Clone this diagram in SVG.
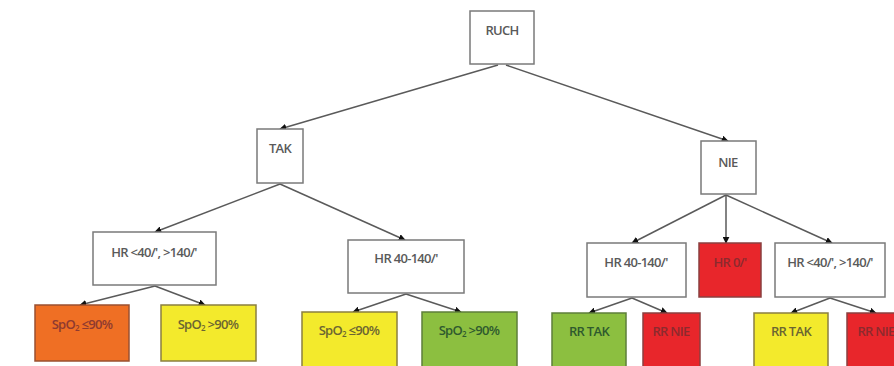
<svg xmlns="http://www.w3.org/2000/svg" width="894" height="366" viewBox="0 0 894 366">
<style>
.box{fill:#fff;stroke:#7a7a7a;stroke-width:1.5}
.t{font-family:"Open Sans","Liberation Sans",sans-serif;font-size:13px;font-weight:600;text-anchor:middle;fill:#5a5a5a;letter-spacing:-0.7px}
.or{fill:#ef6f24;stroke:#9a5030;stroke-width:1.5}
.ye{fill:#f3ea2c;stroke:#8a7f40;stroke-width:1.5}
.gr{fill:#8cbf40;stroke:#5e7f3a;stroke-width:1.5}
.re{fill:#e8262b;stroke:#8a4040;stroke-width:1.5}
.tor{fill:#8e3a30}
.tye{fill:#6b6532}
.tgr{fill:#2f5a2e}
.tre{fill:#8c2a2e}
.e{stroke:#5a5a5a;stroke-width:1.5;fill:none;marker-end:url(#a)}
</style>
<defs>
<marker id="a" viewBox="0 0 10 10" refX="9" refY="5" markerWidth="7" markerHeight="7" orient="auto" markerUnits="userSpaceOnUse"><path d="M0,0 L10,5 L0,10 z" fill="#111"/></marker>
</defs>
<rect width="894" height="366" fill="#fff"/>
<g id="connectors">
<line class="e" x1="498" y1="65" x2="280" y2="129"/>
<line class="e" x1="506" y1="65" x2="728" y2="141"/>
<line class="e" x1="280" y1="184" x2="155" y2="232"/>
<line class="e" x1="280" y1="184" x2="405" y2="240"/>
<line class="e" x1="726" y1="195" x2="632" y2="243"/>
<line class="e" x1="726" y1="195" x2="726" y2="243"/>
<line class="e" x1="726" y1="195" x2="832" y2="243"/>
<line class="e" x1="155" y1="286" x2="80" y2="305"/>
<line class="e" x1="155" y1="286" x2="205" y2="305"/>
<line class="e" x1="406" y1="294" x2="353" y2="312"/>
<line class="e" x1="406" y1="294" x2="461" y2="312"/>
<line class="e" x1="632" y1="298" x2="589" y2="313"/>
<line class="e" x1="632" y1="298" x2="667" y2="313"/>
<line class="e" x1="830" y1="298" x2="791" y2="313"/>
<line class="e" x1="830" y1="298" x2="876" y2="313"/>
</g>
<g id="ruch"><rect class="box" x="470" y="11" width="64" height="53"/><text class="t" x="502" y="35">RUCH</text></g>
<g id="tak"><rect class="box" x="257" y="129" width="46" height="54"/><text class="t" x="280" y="153">TAK</text></g>
<g id="nie"><rect class="box" x="701" y="141" width="55" height="53"/><text class="t" x="728" y="167">NIE</text></g>
<g id="hr-tak-abn"><rect class="box" x="93" y="232" width="123" height="53"/><text class="t" x="154" y="257">HR &lt;40/', &gt;140/'</text></g>
<g id="hr-tak-norm"><rect class="box" x="348" y="240" width="116" height="53"/><text class="t" x="406" y="263">HR 40-140/'</text></g>
<g id="hr-nie-norm"><rect class="box" x="587" y="243" width="99" height="54"/><text class="t" x="636" y="267">HR 40-140/'</text></g>
<g id="hr-nie-zero"><rect class="re" x="699" y="243" width="62" height="54"/><text class="t tre" x="730" y="267">HR 0/'</text></g>
<g id="hr-nie-abn"><rect class="box" x="775" y="243" width="110" height="54"/><text class="t" x="830" y="267">HR &lt;40/', &gt;140/'</text></g>
<g id="spo2-low-1"><rect class="or" x="35" y="305" width="94" height="56"/><text class="t tor" x="82" y="329">SpO<tspan font-size="8" dy="2">2</tspan><tspan dy="-2"> ≤90%</tspan></text></g>
<g id="spo2-high-1"><rect class="ye" x="161" y="305" width="95" height="56"/><text class="t tye" x="208" y="329">SpO<tspan font-size="8" dy="2">2</tspan><tspan dy="-2"> &gt;90%</tspan></text></g>
<g id="spo2-low-2"><rect class="ye" x="302" y="312" width="95" height="60"/><text class="t tye" x="349" y="335">SpO<tspan font-size="8" dy="2">2</tspan><tspan dy="-2"> ≤90%</tspan></text></g>
<g id="spo2-high-2"><rect class="gr" x="422" y="312" width="95" height="60"/><text class="t tgr" x="469" y="335">SpO<tspan font-size="8" dy="2">2</tspan><tspan dy="-2"> &gt;90%</tspan></text></g>
<g id="rr-tak-1"><rect class="gr" x="552" y="313" width="74" height="60"/><text class="t tgr" x="589" y="336">RR TAK</text></g>
<g id="rr-nie-1"><rect class="re" x="643" y="313" width="57" height="60"/><text class="t tre" x="671" y="336">RR NIE</text></g>
<g id="rr-tak-2"><rect class="ye" x="754" y="313" width="74" height="60"/><text class="t tye" x="791" y="336">RR TAK</text></g>
<g id="rr-nie-2"><rect class="re" x="847" y="313" width="60" height="60"/><text class="t tre" x="876" y="336">RR NIE</text></g>
</svg>
